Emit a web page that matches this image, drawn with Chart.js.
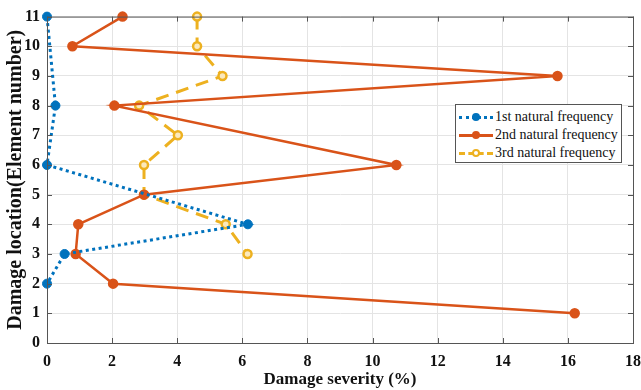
<!DOCTYPE html>
<html>
<head>
<meta charset="utf-8">
<script src="https://cdn.jsdelivr.net/npm/chart.js@4"></script>
<style>
  body { margin: 0; background: #fff; }
  #wrap { position: relative; width: 641px; height: 390px; }
  #legend {
    position: absolute; left: 455px; top: 104px; width: 167px; height: 59px;
    border: 1px solid #555; background: #fff; box-sizing: border-box;
    font-family: "Liberation Serif", serif; font-size: 14px; color: #111;
    padding-top: 3px; white-space: nowrap;
  }
  .item { display: flex; align-items: center; height: 18px; }
  .sample { position: relative; flex: none; width: 34px; height: 10px; margin: 0 2px 0 3px; }
  .sample .ln { position: absolute; left: 0; right: 0; top: 4px; height: 0; border-top-width: 3px; }
  .sample .mk { position: absolute; left: 13px; top: 1px; width: 8px; height: 8px; border-radius: 50%; box-sizing: border-box; }
</style>
</head>
<body>
<div id="wrap">
  <canvas id="myChart" width="641" height="390"></canvas>
  <div id="legend"></div>
</div>
<script>
const ctx = document.getElementById('myChart');

// element numbers (y) and damage severity (x) per series
const elems1 = [11, 8, 6, 4, 3, 2];
const sev1 = [0, 0.26, 0, 6.17, 0.54, 0];
const elems2 = [11, 10, 9, 8, 6, 5, 4, 3, 2, 1];
const sev2 = [2.32, 0.78, 15.68, 2.07, 10.73, 2.98, 0.96, 0.88, 2.03, 16.21];
const elems3 = [11, 10, 9, 8, 7, 6, 5, 4, 3];
const sev3 = [4.61, 4.61, 5.39, 2.83, 4.02, 2.98, 2.98, 5.49, 6.16];

const names = ['1st natural frequency', '2nd natural frequency', '3rd natural frequency'];
const colors = ['#0072BD', '#D95319', '#EDB120'];

function pts(xs, ys) {
  return xs.map((x, i) => ({ x: x, y: ys[i] }));
}

const serif = 'Liberation Serif';

// grey box around the plot area, with small inward ticks like matlab
const boxPlugin = {
  id: 'box',
  afterDatasetsDraw(chart) {
    const a = chart.chartArea, c = chart.ctx;
    const xs = chart.scales.x, ys = chart.scales.y;
    c.save();
    c.strokeStyle = '#555';
    c.lineWidth = 1;
    c.strokeRect(a.left + 0.5, a.top + 0.5, a.right - a.left, a.bottom - a.top);
    c.beginPath();
    xs.ticks.forEach(t => {
      const px = Math.round(xs.getPixelForValue(t.value)) + 0.5;
      c.moveTo(px, a.bottom); c.lineTo(px, a.bottom - 5);
      c.moveTo(px, a.top); c.lineTo(px, a.top + 5);
    });
    ys.ticks.forEach(t => {
      const py = Math.round(ys.getPixelForValue(t.value)) + 0.5;
      c.moveTo(a.left, py); c.lineTo(a.left + 5, py);
      c.moveTo(a.right, py); c.lineTo(a.right - 5, py);
    });
    c.stroke();
    c.restore();
  }
};

new Chart(ctx, {
  type: 'scatter',
  data: {
    datasets: [
      {
        label: names[0], data: pts(sev1, elems1), showLine: true,
        borderColor: colors[0], backgroundColor: colors[0], borderWidth: 3,
        borderDash: [3, 3.5], pointRadius: 4.5, pointBackgroundColor: colors[0],
        pointBorderColor: colors[0], pointBorderWidth: 1
      },
      {
        label: names[1], data: pts(sev2, elems2), showLine: true,
        borderColor: colors[1], backgroundColor: colors[1], borderWidth: 2.5,
        pointRadius: 4, pointBackgroundColor: colors[1], pointBorderColor: colors[1]
      },
      {
        label: names[2], data: pts(sev3, elems3), showLine: true,
        borderColor: colors[2], backgroundColor: colors[2], borderWidth: 3,
        borderDash: [13, 8], pointRadius: 4, pointBackgroundColor: '#fbe9bd',
        pointBorderColor: colors[2], pointBorderWidth: 2.5
      }
    ]
  },
  options: {
    responsive: false,
    animation: false,
    datasets: { scatter: { clip: false } },
    layout: { padding: { top: 16, right: 8, left: 0, bottom: 0 } },
    plugins: { legend: { display: false }, tooltip: { enabled: false } },
    scales: {
      x: {
        min: 0, max: 18,
        ticks: { stepSize: 2, color: '#111', font: { family: serif, size: 16, weight: 'bold' }, padding: 9 },
        grid: { color: '#e4e4e4', drawTicks: false },
        border: { color: '#555' },
        title: { display: true, text: 'Damage severity (%)', color: '#111', font: { family: serif, size: 17, weight: 'bold' }, padding: 0 },
        afterFit(scale) { scale.height = 47; scale.paddingRight = 0; }
      },
      y: {
        min: 0, max: 11,
        ticks: { stepSize: 1, color: '#111', font: { family: serif, size: 16, weight: 'bold' }, padding: 7 },
        grid: { color: '#e4e4e4', drawTicks: false },
        border: { color: '#555' },
        title: { display: true, text: 'Damage location(Element number)', color: '#111', font: { family: serif, size: 20, weight: 'bold' }, padding: { top: 4, bottom: 0 } },
        afterFit(scale) { scale.width = 47; }
      }
    }
  },
  plugins: [boxPlugin]
});

// legend drawn as html over the plot
const styles = [
  { line: 'dotted', fill: colors[0] },
  { line: 'solid', fill: colors[1] },
  { line: 'dashed', fill: '#fff' }
];
const legend = document.getElementById('legend');
names.forEach((n, i) => {
  const it = document.createElement('div');
  it.className = 'item';
  it.innerHTML = '<div class="sample"><div class="ln" style="border-top-style:' + styles[i].line +
    ';border-top-color:' + colors[i] + '"></div><div class="mk" style="background:' + styles[i].fill +
    ';border:2px solid ' + colors[i] + '"></div></div><span>' + n + '</span>';
  legend.appendChild(it);
});
</script>
</body>
</html>
